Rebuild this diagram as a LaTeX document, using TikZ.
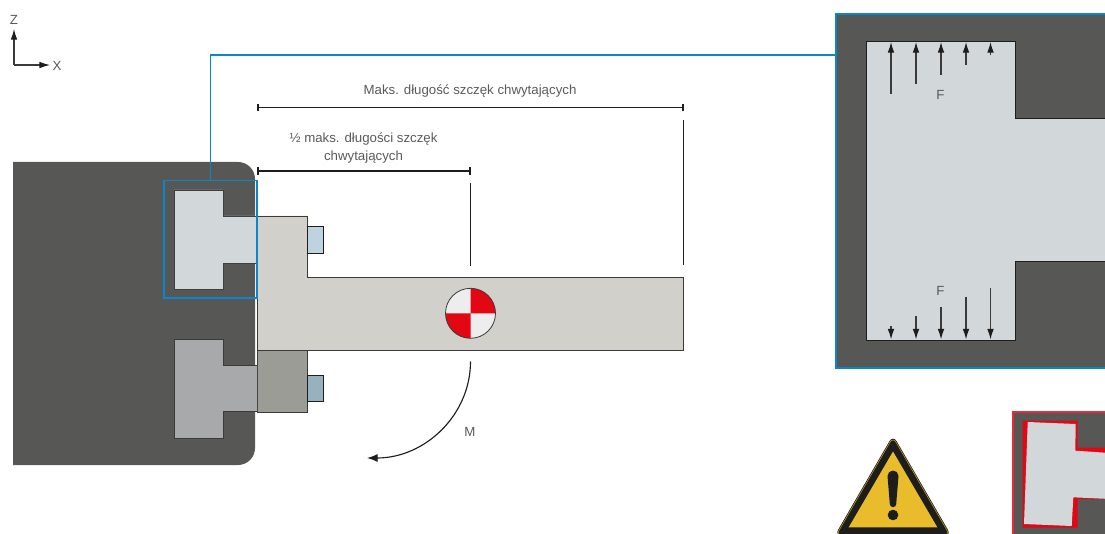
\documentclass[tikz,border=0pt]{standalone}
\usepackage{fontspec}
\setmainfont{Liberation Sans}
\usetikzlibrary{arrows.meta}
\definecolor{bodyc}{HTML}{575756}
\definecolor{jawa}{HTML}{D2D7DA}
\definecolor{jawb}{HTML}{A8A9AB}
\definecolor{fingera}{HTML}{D1D0CB}
\definecolor{fingerb}{HTML}{9C9C96}
\definecolor{bolta}{HTML}{BDD3E0}
\definecolor{boltb}{HTML}{97B2BD}
\definecolor{zoomblue}{HTML}{0A87CB}
\definecolor{redc}{HTML}{E30613}
\definecolor{whitec}{HTML}{EDEDED}
\definecolor{yellowc}{HTML}{E8BC2B}
\definecolor{blackc}{HTML}{1D1D1B}
\definecolor{textc}{HTML}{5A5A5A}
\definecolor{edgec}{HTML}{3A3A39}
\tikzset{
  label text/.style={text=textc,font=\fontsize{9.95pt}{13pt}\selectfont,align=center,inner sep=0pt},
  part/.style={draw=edgec,line width=0.6pt},
  dimline/.style={draw=blackc,line width=1.2pt,{Bar[width=5.5pt,line width=1.2pt]}-{Bar[width=5.5pt,line width=1.2pt]}},
  guide/.style={draw=blackc,line width=0.85pt},
  force/.style={draw=edgec,line width=0.85pt,-{Latex[length=8pt,width=5pt,color=blackc]}},
  axis/.style={draw=edgec,line width=0.9pt,-{Latex[length=8pt,width=5pt,color=blackc]}},
  blueline/.style={draw=zoomblue,line width=0.8pt}
}
\begin{document}
\begin{tikzpicture}[x=0.75pt,y=-0.75pt]
\useasboundingbox (0,0) rectangle (1105,534);
\clip (0,0) rectangle (1105,534);
% axes
\coordinate (origin) at (14,65);
\coordinate (zend) at (14,29);
\coordinate (xend) at (50,65);
\draw[axis] (origin) -- (zend);
\draw[axis] (origin) -- (xend);
\node[label text] (zlabel) at (14,20) {Z};
\node[label text] (xlabel) at (57,66) {X};
% gripper body
\fill[bodyc] (13,162) -- (238,162) arc[start angle=90,end angle=0,x radius=17,y radius=-17] -- (255,448)
  arc[start angle=0,end angle=-90,x radius=17,y radius=-17] -- (13,465) -- cycle;
% fingers
\draw[part,fill=fingera] (257,216) -- (307,216) -- (307,277.3) -- (683.5,277.3) -- (683.5,350) -- (257,350) -- cycle;
\draw[part,fill=fingerb] (257,350) -- (307,350) -- (307,412) -- (257,412) -- cycle;
\draw[draw=blackc,line width=0.7pt,fill=bolta] (307,226.5) -- (323.5,226.5) -- (323.5,253) -- (307,253) -- cycle;
\draw[draw=blackc,line width=0.7pt,fill=boltb] (307,375) -- (323.5,375) -- (323.5,401.5) -- (307,401.5) -- cycle;
% jaws
\draw[draw=blackc!85,line width=0.7pt,fill=jawa] (257,216) -- (223,216) -- (223,190) -- (174,190) -- (174,289) -- (223,289) -- (223,263.5) -- (257,263.5);
\draw[draw=edgec,line width=0.6pt,fill=jawb] (257,365) -- (223,365) -- (223,339) -- (174,339) -- (174,438) -- (223,438) -- (223,411.5) -- (257,411.5);
% detail frame and leader
\coordinate (framelead) at (210.5,180.5);
\coordinate (leadbend) at (210.5,55);
\coordinate (leadend) at (836,55);
\draw[blueline] (164,180.5) rectangle (257,298);
\draw[blueline] (framelead) -- (leadbend) -- (leadend);
% centre-of-gravity mark
\coordinate (cg) at (470.5,313.3);
\fill[whitec] (cg) circle[radius=25];
\fill[redc] (cg) -- ++(0,-25) arc[start angle=90,end angle=0,x radius=25,y radius=-25] -- cycle;
\fill[redc] (cg) -- ++(0,25) arc[start angle=-90,end angle=-180,x radius=25,y radius=-25] -- cycle;
\draw[edgec,line width=0.6pt] (cg) circle[radius=25];
% dimensions
\coordinate (dima) at (257,107.6);
\coordinate (dimb) at (683.5,107.6);
\coordinate (dimc) at (257,171);
\coordinate (dimd) at (470.5,171);
\draw[dimline] (dima) -- (dimb);
\draw[dimline] (dimc) -- (dimd);
\coordinate (ga) at (683.5,120);
\coordinate (gb) at (683.5,265);
\coordinate (gc) at (470.5,183);
\coordinate (gd) at (470.5,266);
\draw[guide] (ga) -- (gb);
\draw[guide] (gc) -- (gd);
\node[label text] (lmax) at (470,91.5) {Maks. długość szczęk chwytających};
\node[label text] (lhalf) at (363.5,148) {½ maks. długości szczęk\\chwytających};
% moment
\coordinate (ma) at (470.5,361.5);
\coordinate (mb) at (367,458);
\draw[draw=blackc,line width=0.85pt,-{Latex[length=8pt,width=6pt,color=blackc]}] (ma) .. controls (470.5,415) and (425,458) .. (mb);
\node[label text] (lm) at (470,432) {M};
% detail view
\draw[draw=zoomblue,line width=0.9pt,fill=bodyc] (1110,14) -- (836,14) -- (836,368) -- (1110,368);
\draw[draw=blackc,line width=0.75pt,fill=jawa] (1110,119) -- (1015.5,119) -- (1015.5,41.5) -- (866.5,41.5) -- (866.5,340) -- (1015.5,340) -- (1015.5,262) -- (1110,262);
\foreach \n/\x/\y in {1/891/94,2/916/84.5,3/941/75,4/966/65,5/990.5/55.5}{
  \coordinate (ts\n) at (\x,\y);
  \coordinate (te\n) at (\x,42);
  \draw[force] (ts\n) -- (te\n);
}
\foreach \n/\x/\y in {1/891/326,2/916/316,3/941/307,4/966/297,5/990.5/288}{
  \coordinate (bs\n) at (\x,\y);
  \coordinate (be\n) at (\x,339.5);
  \draw[force] (bs\n) -- (be\n);
}
\node[label text] (fa) at (940.5,95) {F};
\node[label text] (fb) at (940.5,291) {F};
% warning sign
\fill[blackc,line join=round,rounded corners=5.5pt] (893,435) -- (951.5,536) -- (834.5,536) -- cycle;
\draw[draw=yellowc!80!black,line width=0.45pt,rounded corners=4.5pt] (893,437) -- (950,535.5) -- (836,535.5) -- cycle;
\fill[yellowc] (893,451.5) -- (937.3,527.3) -- (848.7,527.3) -- cycle;
\fill[blackc] (887.5,476) arc[start angle=180,end angle=0,x radius=5.5,y radius=-5.5] -- (896.2,504)
  arc[start angle=0,end angle=-180,x radius=3.2,y radius=-3.2] -- cycle;
\fill[blackc] (893,515) circle[radius=5.3];
% misaligned jaw example
\fill[bodyc] (1013,412) rectangle (1110,540);
\draw[draw=redc!85!white,line width=0.9pt] (1110,412) -- (1013,412) -- (1013,540);
\fill[redc] (1022.7,420.7) -- (1077.7,420.7) -- (1077.7,447.7) -- (1110,447.7) -- (1110,499) -- (1077.7,499) -- (1077.7,527.7) -- (1022.7,527.7) -- cycle;
\fill[jawa] (1027.7,422) -- (1075.7,424) -- (1075.3,450.7) -- (1110,453) -- (1110,499) -- (1073.3,497.3) -- (1071.7,526) -- (1024,524) -- cycle;
\end{tikzpicture}
\end{document}
